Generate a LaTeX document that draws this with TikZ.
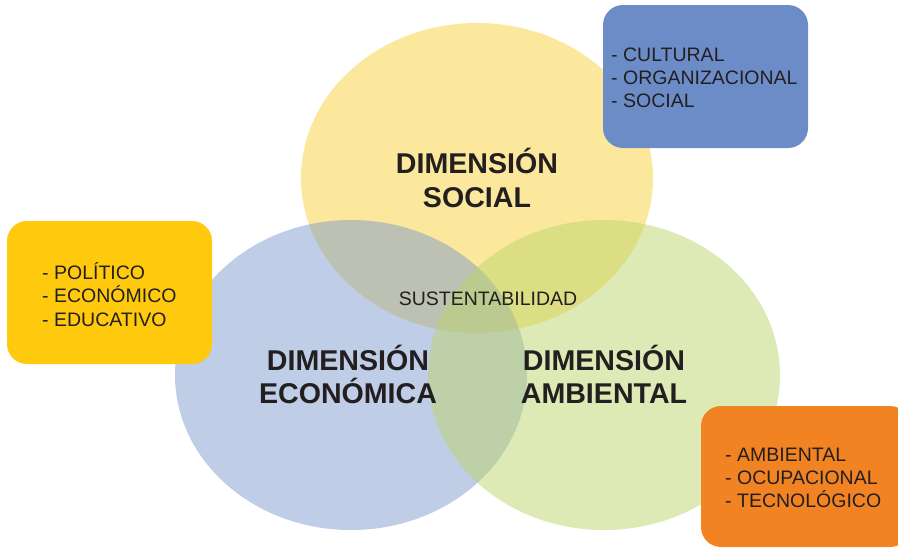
\documentclass[tikz,border=0pt]{standalone}
\usepackage{fontspec}
\setmainfont{Liberation Sans}
\usepackage{xcolor}

\definecolor{socialyellow}{RGB}{249,209,57}
\definecolor{econblue}{RGB}{127,155,205}
\definecolor{ambgreen}{RGB}{187,213,107}
\definecolor{boxblue}{RGB}{108,140,200}
\definecolor{boxyellow}{RGB}{255,201,13}
\definecolor{boxorange}{RGB}{242,131,34}
\definecolor{inkdark}{RGB}{35,31,32}

\tikzset{
  dimlabel/.style={anchor=base,inner sep=0pt,text=inkdark,font=\fontsize{28.6}{33}\selectfont\bfseries},
  listline/.style={anchor=base west,inner sep=0pt,text=inkdark,font=\fontsize{19.5}{23.5}\selectfont},
  midlabel/.style={anchor=base,inner sep=0pt,text=inkdark,font=\fontsize{19.5}{23}\selectfont},
  listbox/.style={rounded corners=20pt}
}

\begin{document}
\begin{tikzpicture}[x=1pt,y=-1pt]
\useasboundingbox (0,0) rectangle (898,549);
% circles
\fill[socialyellow,fill opacity=0.5] (477,178) ellipse (176 and 155);
\fill[econblue,fill opacity=0.5] (351,375) ellipse (176 and 155);
\fill[ambgreen,fill opacity=0.5] (604,375) ellipse (176 and 155);
% boxes
\fill[boxblue,listbox] (603,5) rectangle (808,148);
\fill[boxyellow,listbox] (7,221) rectangle (212,364);
\fill[boxorange,listbox] (701,406) rectangle (910,547);
% dimensions
\node[dimlabel] (soc1) at (477,173) {DIMENSIÓN};
\node[dimlabel] (soc2) at (477,207) {SOCIAL};
\node[dimlabel] (eco1) at (348,370) {DIMENSIÓN};
\node[dimlabel] (eco2) at (348,403) {ECONÓMICA};
\node[dimlabel] (amb1) at (604,370) {DIMENSIÓN};
\node[dimlabel] (amb2) at (604,403) {AMBIENTAL};
\node[midlabel] (sust) at (488,305) {SUSTENTABILIDAD};
% lists
\node[listline] (cult) at (611,61) {- CULTURAL};
\node[listline] (orga) at (611,84) {- ORGANIZACIONAL};
\node[listline] (soci) at (611,107) {- SOCIAL};
\node[listline] (poli) at (42,279) {- POLÍTICO};
\node[listline] (econ) at (42,302) {- ECONÓMICO};
\node[listline] (educ) at (42,326) {- EDUCATIVO};
\node[listline] (ambi) at (725,461) {- AMBIENTAL};
\node[listline] (ocup) at (725,484) {- OCUPACIONAL};
\node[listline] (tecn) at (725,507) {- TECNOLÓGICO};
\end{tikzpicture}
\end{document}
